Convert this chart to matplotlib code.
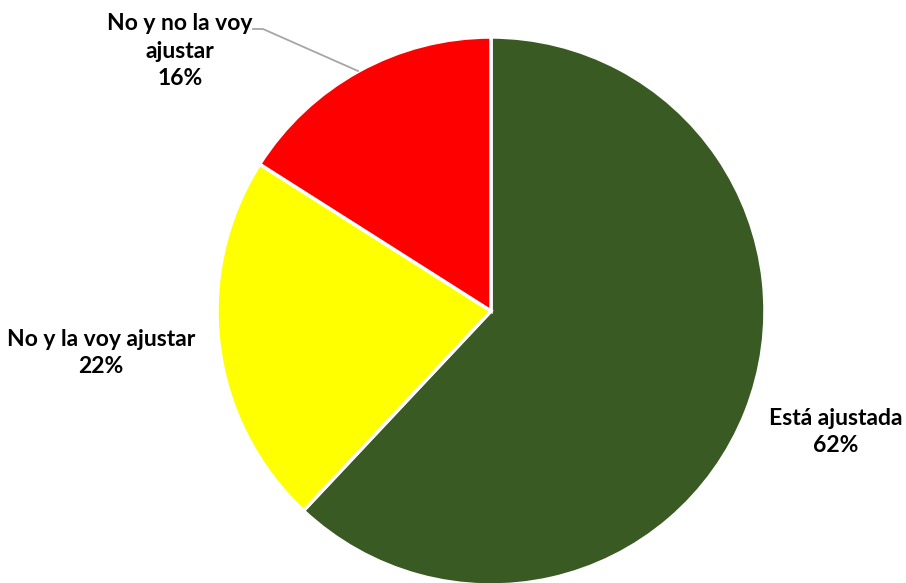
import matplotlib.pyplot as plt

labels = ['Está ajustada', 'No y la voy ajustar', 'No y no la voy\najustar']
shares = [62, 22, 16]
colors = ['#3A5A24', '#FFFF00', '#FF0000']

# label positions in pixel coords (x, y from top)
label_pos = [(836, 432), (101, 353), (180, 51)]

W, H = 906, 583
fig = plt.figure(figsize=(W / 100, H / 100), dpi=100)
ax = fig.add_axes([0, 0, 1, 1])

cx, cy, r = 491, H - 311, 274
ax.pie(shares, colors=colors, startangle=90, counterclock=False,
       center=(cx, cy), radius=r, frame=True,
       wedgeprops=dict(edgecolor='white', linewidth=2.5))
ax.set_xlim(0, W)
ax.set_ylim(0, H)
ax.set_aspect('equal')
ax.axis('off')

for lab, v, (x, y) in zip(labels, shares, label_pos):
    ax.text(x, H - y, f'{lab}\n{v}%', ha='center', va='center',
            fontsize=16.5, fontweight='bold', family='Lato',
            linespacing=1.4, color='black')

# leader line for the small slice
ax.plot([253, 263, 358], [H - 29, H - 29, H - 71], color='#A6A6A6', lw=1.3)

fig.savefig('out.png', dpi=100)
